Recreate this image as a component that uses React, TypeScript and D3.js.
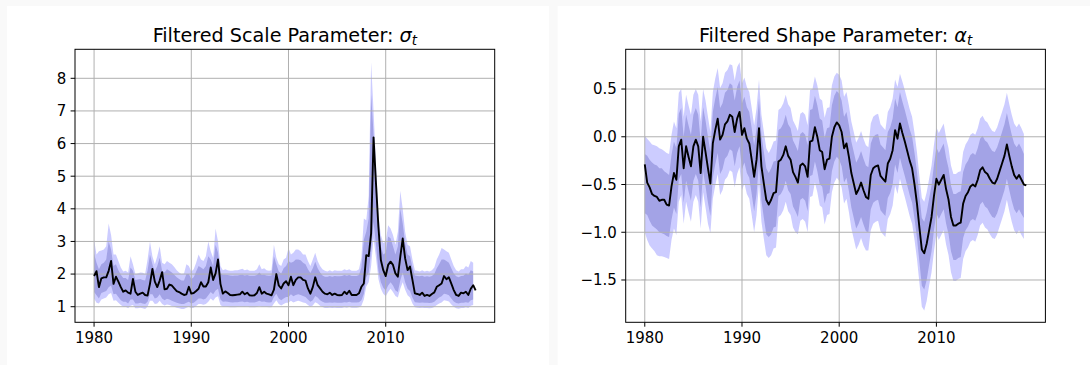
import * as d3 from 'd3'

// quarterly observations 1980Q1 .. 2019Q2, bands stop one quarter earlier
const years = d3.range(158).map(i => 1980 + i / 4)
const bandYears = years.slice(0, 157)
const xTicks = [1980, 1990, 2000, 2010]

// ---- scale parameter sigma_t ----
const sigmaMean = [
  1.94, 2.09, 1.60, 1.87, 1.90, 1.90, 2.10, 2.40,
  1.70, 1.92, 1.77, 1.60, 1.46, 1.50, 1.43, 1.40,
  1.85, 1.46, 1.36, 1.40, 1.43, 1.36, 1.34, 1.70,
  2.16, 1.77, 1.60, 1.80, 2.06, 1.53, 1.55, 1.68,
  1.65, 1.56, 1.48, 1.45, 1.40, 1.36, 1.38, 1.61,
  1.40, 1.42, 1.48, 1.55, 1.75, 1.62, 1.62, 1.75,
  2.20, 1.82, 2.02, 2.45, 1.70, 1.40, 1.47, 1.42,
  1.36, 1.35, 1.36, 1.37, 1.38, 1.46, 1.38, 1.43,
  1.35, 1.34, 1.35, 1.42, 1.60, 1.40, 1.46, 1.40,
  1.38, 1.35, 1.52, 2.00, 1.65, 1.56, 1.71, 1.78,
  1.66, 1.92, 1.66, 1.82, 1.90, 1.90, 1.82, 1.80,
  1.56, 1.40, 1.60, 1.90, 1.66, 1.56, 1.46, 1.40,
  1.38, 1.43, 1.36, 1.40, 1.36, 1.35, 1.36, 1.46,
  1.39, 1.49, 1.36, 1.36, 1.36, 1.41, 1.61, 1.71,
  2.58, 2.55, 3.25, 6.19, 4.78, 3.45, 2.43, 2.12,
  1.94, 2.28, 2.38, 2.28, 2.02, 1.92, 2.53, 3.09,
  2.48, 2.12, 2.23, 1.82, 1.41, 1.39, 1.36, 1.43,
  1.33, 1.36, 1.33, 1.39, 1.44, 1.61, 1.66, 1.71,
  1.94, 1.84, 1.90, 1.71, 1.51, 1.36, 1.33, 1.43,
  1.41, 1.46, 1.36, 1.55, 1.66, 1.50,
]
const sigmaOuterHi = [
  3.05, 2.60, 2.70, 2.72, 2.75, 2.85, 3.55, 3.20,
  2.60, 2.60, 2.40, 2.20, 2.08, 2.10, 2.05, 2.55,
  2.30, 2.00, 2.02, 2.05, 2.04, 2.00, 2.45, 3.00,
  2.55, 2.30, 2.55, 2.85, 2.35, 2.30, 2.40, 2.35,
  2.30, 2.22, 2.12, 2.05, 2.00, 2.02, 2.30, 2.25,
  2.08, 2.15, 2.35, 2.60, 2.45, 2.40, 2.55, 3.00,
  2.70, 2.50, 3.40, 3.00, 2.25, 2.12, 2.15, 2.12,
  2.10, 2.10, 2.12, 2.12, 2.14, 2.16, 2.12, 2.14,
  2.10, 2.10, 2.10, 2.15, 2.30, 2.15, 2.18, 2.12,
  2.10, 2.12, 2.90, 2.50, 2.30, 2.25, 2.45, 2.50,
  2.80, 2.60, 2.65, 2.75, 2.75, 2.70, 2.60, 2.60,
  2.40, 2.25, 2.45, 2.65, 2.40, 2.25, 2.15, 2.10,
  2.08, 2.12, 2.08, 2.12, 2.10, 2.10, 2.10, 2.15,
  2.12, 2.15, 2.10, 2.10, 2.10, 2.15, 2.50, 3.70,
  3.65, 4.40, 8.50, 7.00, 5.40, 3.80, 3.20, 2.95,
  3.00, 3.50, 3.40, 3.20, 2.90, 3.30, 4.55, 4.00,
  3.30, 2.90, 2.85, 2.45, 2.12, 2.10, 2.08, 2.12,
  2.08, 2.10, 2.08, 2.12, 2.20, 2.45, 2.60, 2.80,
  2.75, 2.70, 2.65, 2.45, 2.25, 2.12, 2.08, 2.15,
  2.15, 2.25, 2.20, 2.40, 2.35,
]
const sigmaInnerHi = [
  2.63, 2.35, 2.15, 2.30, 2.35, 2.45, 3.00, 2.75,
  2.25, 2.30, 2.12, 1.98, 1.88, 1.88, 1.82, 2.20,
  2.10, 1.82, 1.83, 1.85, 1.82, 1.80, 2.10, 2.60,
  2.30, 2.08, 2.25, 2.50, 2.10, 2.05, 2.15, 2.10,
  2.05, 1.98, 1.90, 1.85, 1.80, 1.80, 2.00, 2.00,
  1.85, 1.90, 2.08, 2.25, 2.20, 2.15, 2.25, 2.55,
  2.45, 2.25, 2.90, 2.65, 2.02, 1.98, 1.98, 1.97,
  1.96, 1.95, 1.96, 1.96, 1.97, 1.98, 1.96, 1.97,
  1.95, 1.95, 1.95, 1.97, 2.05, 1.97, 1.98, 1.96,
  1.95, 1.96, 2.55, 2.30, 2.08, 2.02, 2.18, 2.25,
  2.40, 2.35, 2.38, 2.45, 2.45, 2.42, 2.35, 2.30,
  2.15, 2.03, 2.18, 2.38, 2.18, 2.05, 1.96, 1.92,
  1.92, 1.94, 1.92, 1.94, 1.93, 1.93, 1.94, 1.97,
  1.95, 1.97, 1.94, 1.94, 1.94, 1.97, 2.20, 3.05,
  3.30, 3.70, 7.50, 6.30, 4.90, 3.35, 2.85, 2.60,
  2.65, 3.15, 3.10, 2.85, 2.60, 2.85, 4.00, 3.55,
  2.95, 2.60, 2.55, 2.20, 1.96, 1.94, 1.93, 1.95,
  1.92, 1.93, 1.92, 1.94, 2.00, 2.18, 2.30, 2.45,
  2.45, 2.40, 2.35, 2.18, 2.02, 1.93, 1.90, 1.94,
  1.95, 2.02, 1.98, 2.12, 2.08,
]
const sigmaInnerLo = [
  1.45, 1.35, 1.25, 1.42, 1.45, 1.48, 1.60, 1.65,
  1.38, 1.40, 1.30, 1.20, 1.15, 1.15, 1.10, 1.22,
  1.22, 1.10, 1.10, 1.12, 1.10, 1.08, 1.15, 1.38,
  1.38, 1.25, 1.28, 1.38, 1.25, 1.20, 1.24, 1.22,
  1.18, 1.15, 1.12, 1.10, 1.08, 1.08, 1.12, 1.15,
  1.10, 1.12, 1.18, 1.25, 1.25, 1.22, 1.25, 1.35,
  1.45, 1.38, 1.50, 1.55, 1.22, 1.15, 1.16, 1.15,
  1.14, 1.13, 1.14, 1.14, 1.15, 1.16, 1.14, 1.15,
  1.13, 1.13, 1.13, 1.15, 1.18, 1.15, 1.16, 1.14,
  1.13, 1.14, 1.30, 1.40, 1.25, 1.20, 1.25, 1.30,
  1.30, 1.38, 1.32, 1.36, 1.38, 1.36, 1.33, 1.30,
  1.22, 1.15, 1.20, 1.33, 1.28, 1.20, 1.15, 1.12,
  1.12, 1.13, 1.12, 1.13, 1.12, 1.12, 1.12, 1.14,
  1.13, 1.15, 1.13, 1.13, 1.13, 1.14, 1.20, 1.40,
  1.90, 2.05, 2.70, 3.60, 2.90, 2.10, 1.75, 1.58,
  1.50, 1.65, 1.75, 1.65, 1.50, 1.45, 1.80, 2.05,
  1.75, 1.55, 1.48, 1.28, 1.14, 1.13, 1.12, 1.13,
  1.12, 1.12, 1.11, 1.12, 1.15, 1.22, 1.28, 1.32,
  1.40, 1.38, 1.35, 1.25, 1.16, 1.11, 1.10, 1.12,
  1.12, 1.14, 1.12, 1.20, 1.22,
]
const sigmaOuterLo = [
  1.25, 1.12, 1.10, 1.22, 1.25, 1.28, 1.38, 1.42,
  1.18, 1.20, 1.12, 1.05, 1.00, 1.00, 0.95, 1.03,
  1.05, 0.95, 0.95, 0.97, 0.95, 0.93, 1.00, 1.18,
  1.18, 1.08, 1.10, 1.18, 1.08, 1.04, 1.07, 1.05,
  1.02, 1.00, 0.97, 0.95, 0.93, 0.93, 0.97, 1.00,
  0.95, 0.97, 1.02, 1.08, 1.08, 1.06, 1.08, 1.15,
  1.25, 1.18, 1.28, 1.32, 1.05, 1.00, 1.00, 0.99,
  0.98, 0.98, 0.98, 0.99, 1.00, 1.00, 0.99, 1.00,
  0.98, 0.98, 0.98, 0.99, 1.02, 1.00, 1.00, 0.99,
  0.98, 0.98, 1.10, 1.20, 1.08, 1.04, 1.08, 1.12,
  1.12, 1.18, 1.13, 1.16, 1.18, 1.16, 1.13, 1.11,
  1.05, 1.00, 1.04, 1.14, 1.10, 1.03, 0.99, 0.96,
  0.96, 0.97, 0.96, 0.97, 0.96, 0.96, 0.96, 0.98,
  0.97, 0.99, 0.97, 0.97, 0.97, 0.98, 1.03, 1.22,
  1.62, 1.75, 2.25, 3.10, 2.50, 1.85, 1.55, 1.40,
  1.32, 1.45, 1.55, 1.45, 1.33, 1.28, 1.55, 1.75,
  1.52, 1.35, 1.28, 1.10, 0.98, 0.97, 0.96, 0.97,
  0.96, 0.96, 0.95, 0.96, 0.99, 1.05, 1.10, 1.13,
  1.20, 1.18, 1.16, 1.07, 1.00, 0.95, 0.94, 0.96,
  0.96, 0.98, 0.96, 1.03, 1.05,
]

// ---- shape parameter alpha_t ----
const alphaMean = [
  -0.29, -0.48, -0.53, -0.60, -0.62, -0.63, -0.67, -0.66,
  -0.66, -0.71, -0.72, -0.52, -0.38, -0.45, -0.10, -0.03,
  -0.33, -0.10, -0.21, -0.31, -0.10, -0.03, -0.10, -0.38,
  0.00, -0.16, -0.33, -0.49, -0.07, 0.07, 0.19, -0.03,
  0.02, 0.13, 0.16, 0.23, 0.21, 0.05, 0.19, 0.26,
  0.02, 0.09, -0.02, -0.07, -0.24, -0.42, -0.24, 0.09,
  -0.31, -0.49, -0.66, -0.71, -0.66, -0.59, -0.58, -0.26,
  -0.24, -0.19, -0.10, -0.20, -0.24, -0.37, -0.42, -0.48,
  -0.30, -0.28, -0.31, -0.42, -0.05, -0.04, 0.10, 0.00,
  -0.14, -0.16, -0.34, -0.24, -0.23, 0.00, 0.10, 0.15,
  0.12, 0.05, -0.12, -0.07, -0.21, -0.38, -0.49, -0.60,
  -0.55, -0.48, -0.56, -0.63, -0.65, -0.40, -0.33, -0.31,
  -0.30, -0.41, -0.44, -0.47, -0.28, -0.23, -0.14, 0.07,
  -0.02, 0.14, 0.04, -0.05, -0.15, -0.25, -0.33, -0.50,
  -0.70, -0.95, -1.18, -1.22, -1.12, -0.98, -0.84, -0.62,
  -0.44, -0.50, -0.45, -0.40, -0.55, -0.66, -0.84, -0.93,
  -0.93, -0.91, -0.90, -0.70, -0.62, -0.58, -0.52, -0.50,
  -0.52, -0.45, -0.35, -0.32, -0.37, -0.39, -0.44, -0.48,
  -0.49, -0.44, -0.36, -0.28, -0.20, -0.08, -0.20, -0.31,
  -0.40, -0.44, -0.40, -0.45, -0.50, -0.51,
]
const alphaOuterHi = [
  0.01, -0.02, -0.05, -0.08, -0.09, -0.10, -0.12, -0.13,
  -0.15, -0.17, -0.18, 0.02, 0.16, 0.09, 0.46, 0.50,
  0.21, 0.44, 0.33, 0.23, 0.44, 0.50, 0.44, 0.16,
  0.50, 0.38, 0.21, 0.05, 0.47, 0.61, 0.72, 0.51,
  0.56, 0.67, 0.70, 0.76, 0.75, 0.59, 0.73, 0.78,
  0.56, 0.62, 0.52, 0.47, 0.30, 0.12, 0.30, 0.60,
  0.23, 0.05, -0.12, -0.17, -0.12, -0.05, -0.04, 0.28,
  0.30, 0.35, 0.44, 0.34, 0.30, 0.17, 0.12, 0.06,
  0.24, 0.26, 0.23, 0.12, 0.49, 0.50, 0.63, 0.54,
  0.40, 0.38, 0.20, 0.30, 0.31, 0.54, 0.63, 0.67,
  0.65, 0.59, 0.42, 0.47, 0.33, 0.16, 0.05, -0.06,
  -0.01, 0.06, -0.02, -0.09, -0.11, 0.14, 0.21, 0.23,
  0.24, 0.13, 0.10, 0.07, 0.26, 0.31, 0.40, 0.60,
  0.52, 0.66, 0.58, 0.49, 0.39, 0.29, 0.21, 0.04,
  -0.16, -0.41, -0.64, -0.68, -0.58, -0.44, -0.30, -0.08,
  0.10, 0.04, 0.09, 0.14, -0.01, -0.12, -0.30, -0.39,
  -0.39, -0.37, -0.36, -0.16, -0.08, -0.04, 0.02, 0.04,
  0.02, 0.09, 0.19, 0.22, 0.17, 0.15, 0.10, 0.06,
  0.05, 0.10, 0.18, 0.26, 0.34, 0.46, 0.34, 0.23,
  0.14, 0.10, 0.14, 0.09, 0.03,
]
const alphaInnerHi = [
  -0.18, -0.20, -0.24, -0.27, -0.29, -0.30, -0.33, -0.33,
  -0.36, -0.38, -0.40, -0.19, -0.05, -0.12, 0.24, 0.30,
  0.00, 0.23, 0.12, 0.02, 0.23, 0.30, 0.23, -0.05,
  0.31, 0.17, 0.00, -0.16, 0.26, 0.40, 0.52, 0.30,
  0.35, 0.46, 0.49, 0.56, 0.54, 0.38, 0.52, 0.59,
  0.35, 0.42, 0.31, 0.26, 0.09, -0.09, 0.09, 0.40,
  0.02, -0.16, -0.33, -0.38, -0.33, -0.26, -0.25, 0.07,
  0.09, 0.14, 0.23, 0.13, 0.09, -0.04, -0.09, -0.15,
  0.03, 0.05, 0.02, -0.09, 0.28, 0.29, 0.43, 0.33,
  0.19, 0.17, -0.01, 0.09, 0.10, 0.33, 0.43, 0.48,
  0.45, 0.38, 0.21, 0.26, 0.12, -0.05, -0.16, -0.27,
  -0.22, -0.15, -0.23, -0.30, -0.32, -0.07, 0.00, 0.02,
  0.03, -0.08, -0.11, -0.14, 0.05, 0.10, 0.19, 0.40,
  0.31, 0.47, 0.37, 0.28, 0.18, 0.08, 0.00, -0.17,
  -0.37, -0.62, -0.85, -0.89, -0.79, -0.65, -0.51, -0.29,
  -0.11, -0.17, -0.12, -0.07, -0.22, -0.33, -0.51, -0.60,
  -0.60, -0.58, -0.57, -0.37, -0.29, -0.25, -0.19, -0.17,
  -0.19, -0.12, -0.02, 0.01, -0.04, -0.06, -0.11, -0.15,
  -0.16, -0.11, -0.03, 0.05, 0.13, 0.25, 0.13, 0.02,
  -0.07, -0.11, -0.07, -0.12, -0.18,
]
const alphaInnerLo = [
  -0.80, -0.82, -0.88, -0.93, -0.95, -0.97, -1.00, -1.01,
  -1.02, -1.04, -1.05, -0.87, -0.74, -0.81, -0.45, -0.39,
  -0.69, -0.46, -0.57, -0.67, -0.46, -0.39, -0.46, -0.74,
  -0.36, -0.52, -0.69, -0.83, -0.43, -0.29, -0.17, -0.39,
  -0.34, -0.23, -0.20, -0.13, -0.15, -0.31, -0.17, -0.10,
  -0.34, -0.27, -0.38, -0.43, -0.60, -0.78, -0.60, -0.27,
  -0.67, -0.85, -1.02, -1.05, -1.02, -0.95, -0.94, -0.62,
  -0.60, -0.55, -0.46, -0.56, -0.60, -0.73, -0.78, -0.84,
  -0.66, -0.64, -0.67, -0.78, -0.41, -0.40, -0.26, -0.36,
  -0.50, -0.52, -0.70, -0.60, -0.59, -0.36, -0.26, -0.21,
  -0.24, -0.31, -0.48, -0.43, -0.57, -0.74, -0.85, -0.96,
  -0.91, -0.84, -0.92, -0.99, -1.00, -0.76, -0.69, -0.67,
  -0.66, -0.77, -0.80, -0.83, -0.64, -0.59, -0.50, -0.29,
  -0.38, -0.22, -0.32, -0.41, -0.51, -0.61, -0.69, -0.86,
  -1.06, -1.31, -1.56, -1.60, -1.50, -1.34, -1.20, -0.98,
  -0.80, -0.86, -0.81, -0.76, -0.91, -1.02, -1.20, -1.29,
  -1.29, -1.27, -1.26, -1.06, -0.98, -0.94, -0.88, -0.86,
  -0.88, -0.81, -0.71, -0.68, -0.73, -0.75, -0.80, -0.84,
  -0.85, -0.80, -0.72, -0.64, -0.56, -0.44, -0.56, -0.67,
  -0.76, -0.80, -0.76, -0.81, -0.85,
]
const alphaOuterLo = [
  -1.00, -1.08, -1.14, -1.17, -1.20, -1.24, -1.25, -1.25,
  -1.26, -1.27, -1.28, -1.08, -0.96, -1.03, -0.68, -0.61,
  -0.91, -0.68, -0.79, -0.89, -0.68, -0.61, -0.68, -0.96,
  -0.58, -0.74, -0.91, -1.01, -0.65, -0.51, -0.39, -0.61,
  -0.56, -0.45, -0.42, -0.35, -0.37, -0.53, -0.39, -0.32,
  -0.56, -0.49, -0.60, -0.65, -0.82, -1.00, -0.82, -0.49,
  -0.89, -1.07, -1.24, -1.27, -1.24, -1.17, -1.16, -0.84,
  -0.82, -0.77, -0.68, -0.78, -0.82, -0.95, -1.00, -1.02,
  -0.88, -0.86, -0.89, -1.00, -0.63, -0.62, -0.48, -0.58,
  -0.72, -0.74, -0.92, -0.82, -0.81, -0.58, -0.48, -0.43,
  -0.46, -0.53, -0.70, -0.65, -0.79, -0.96, -1.07, -1.18,
  -1.13, -1.06, -1.14, -1.19, -1.19, -0.98, -0.91, -0.89,
  -0.88, -0.99, -1.02, -1.05, -0.86, -0.81, -0.72, -0.51,
  -0.60, -0.44, -0.54, -0.63, -0.73, -0.83, -0.91, -1.08,
  -1.28, -1.53, -1.78, -1.82, -1.72, -1.56, -1.42, -1.20,
  -1.02, -1.08, -1.03, -0.98, -1.13, -1.24, -1.42, -1.51,
  -1.51, -1.49, -1.48, -1.28, -1.20, -1.16, -1.10, -1.08,
  -1.10, -1.03, -0.93, -0.90, -0.95, -0.97, -1.02, -1.06,
  -1.07, -1.02, -0.94, -0.86, -0.78, -0.66, -0.78, -0.89,
  -0.98, -1.02, -0.98, -1.03, -1.07,
]

const sigmaTicks = [1, 2, 3, 4, 5, 6, 7, 8]
const alphaTicks = [-1.5, -1.0, -0.5, 0.0, 0.5]

const FONT = '"DejaVu Sans", Verdana, sans-serif'
const TICK = 4.4
const TICK_FS = 15
const TITLE_FS = 19.2

interface PanelProps {
  id: string
  left: number
  title: string
  sym: string
  mean: number[]
  outerHi: number[]
  innerHi: number[]
  innerLo: number[]
  outerLo: number[]
  yDomain: [number, number]
  yTicks: number[]
  fmt: (v: number) => string
}

function Panel(p: PanelProps) {
  const x0 = p.left + 68, x1 = x0 + 419.7
  const y0 = 49.3, y1 = 322.3
  const x = d3.scaleLinear().domain([1978.0375, 2021.2125]).range([x0, x1])
  const y = d3.scaleLinear().domain(p.yDomain).range([y1, y0])

  const band = (lo: number[], hi: number[]) =>
    d3.area<number>()
      .x((_, i) => x(bandYears[i]))
      .y0((_, i) => y(lo[i]))
      .y1(d => y(d))(hi) || ''
  const line = d3.line<number>().x((_, i) => x(years[i])).y(d => y(d))(p.mean) || ''

  return (
    <g fontFamily={FONT}>
      <rect x={p.left} y={6} width={542} height={359} fill="#ffffff" />
      <clipPath id={p.id}>
        <rect x={x0} y={y0} width={x1 - x0} height={y1 - y0} />
      </clipPath>
      <g clipPath={`url(#${p.id})`}>
        <path d={band(p.outerLo, p.outerHi)} fill="#0000ff" fillOpacity={0.2} />
        <path d={band(p.innerLo, p.innerHi)} fill="#000080" fillOpacity={0.2} />
        {/* grid sits above the fills, below the line */}
        {xTicks.map(t => (
          <line key={'gx' + t} x1={x(t)} x2={x(t)} y1={y0} y2={y1} stroke="#b0b0b0" strokeWidth={1} />
        ))}
        {p.yTicks.map(t => (
          <line key={'gy' + t} x1={x0} x2={x1} y1={y(t)} y2={y(t)} stroke="#b0b0b0" strokeWidth={1} />
        ))}
        <path d={line} fill="none" stroke="#000" strokeWidth={1.9} strokeLinejoin="round" />
      </g>
      <rect x={x0} y={y0} width={x1 - x0} height={y1 - y0} fill="none" stroke="#000" strokeWidth={1} />

      {xTicks.map(t => (
        <g key={'tx' + t}>
          <line x1={x(t)} x2={x(t)} y1={y1} y2={y1 + TICK} stroke="#000" strokeWidth={1} />
          <text x={x(t)} y={342.7} textAnchor="middle" fontSize={TICK_FS} fill="#000">{t}</text>
        </g>
      ))}
      {p.yTicks.map(t => (
        <g key={'ty' + t}>
          <line x1={x0 - TICK} x2={x0} y1={y(t)} y2={y(t)} stroke="#000" strokeWidth={1} />
          <text x={x0 - 2 * TICK} y={y(t) + 5.4} textAnchor="end" fontSize={TICK_FS} fill="#000">{p.fmt(t)}</text>
        </g>
      ))}

      <text x={(x0 + x1) / 2} y={41.7} textAnchor="middle" fontSize={TITLE_FS} fill="#000">
        {p.title}
        <tspan fontStyle="italic">{p.sym}</tspan>
        <tspan fontStyle="italic" fontSize={13.4} dy={3.4}>t</tspan>
      </text>
    </g>
  )
}

export default function App() {
  return (
    <svg width={1090} height={365} style={{ position: 'absolute', left: 0, top: 0, display: 'block' }}>
      <rect x={0} y={0} width={1090} height={365} fill="#f9f9f9" />
      <Panel
        id="clipSigma" left={7}
        title="Filtered Scale Parameter: " sym="σ"
        mean={sigmaMean} outerHi={sigmaOuterHi} innerHi={sigmaInnerHi}
        innerLo={sigmaInnerLo} outerLo={sigmaOuterLo}
        yDomain={[0.522, 8.889]} yTicks={sigmaTicks}
        fmt={v => String(v)}
      />
      <Panel
        id="clipAlpha" left={557.7}
        title="Filtered Shape Parameter: " sym="α"
        mean={alphaMean} outerHi={alphaOuterHi} innerHi={alphaInnerHi}
        innerLo={alphaInnerLo} outerLo={alphaOuterLo}
        yDomain={[-1.943, 0.916]} yTicks={alphaTicks}
        fmt={v => d3.format('.1f')(v).replace('-', '−')}
      />
    </svg>
  )
}
